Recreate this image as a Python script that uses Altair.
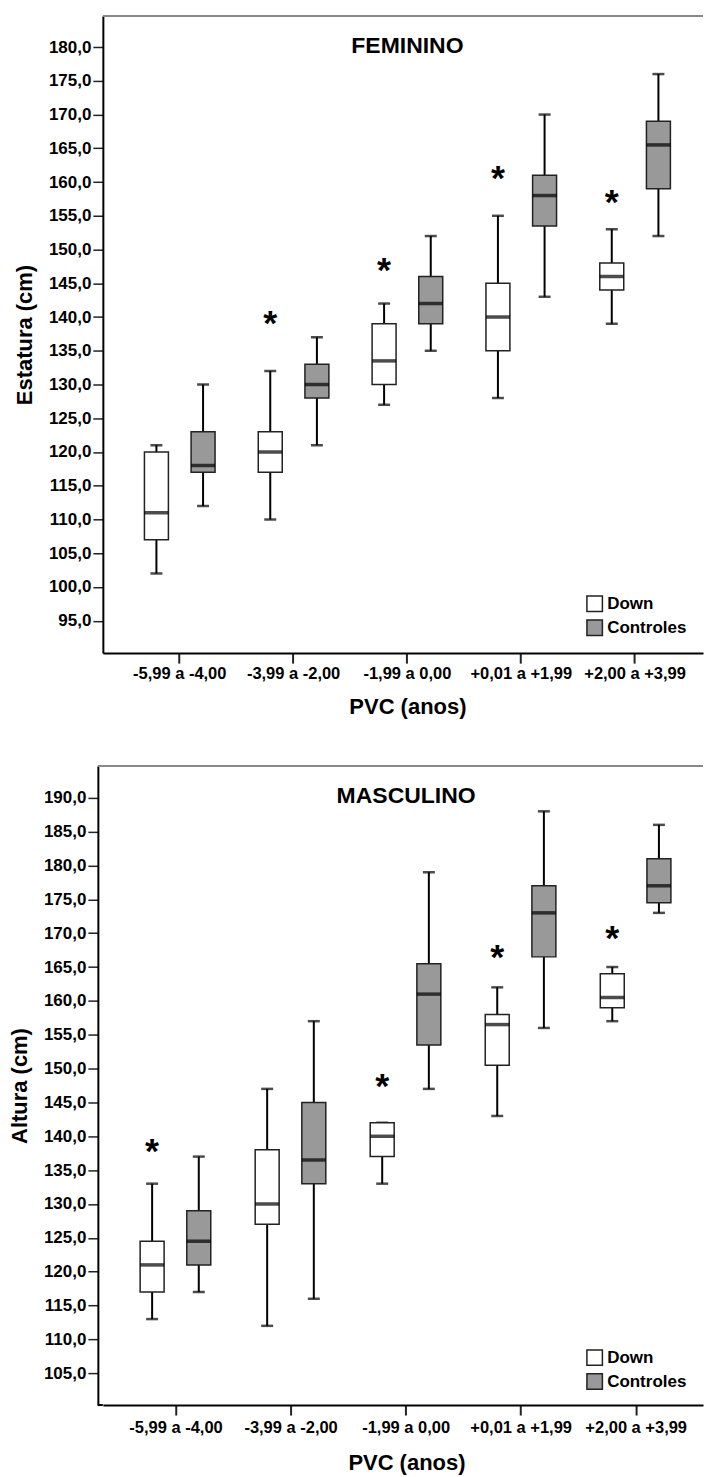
import altair as alt
import pandas as pd

categories = ["-5,99 a -4,00", "-3,99 a -2,00", "-1,99 a 0,00", "+0,01 a +1,99", "+2,00 a +3,99"]
groups = ["Down", "Controles"]

# FEMININO (Estatura)
fem_down_low = [102, 110, 127, 128, 139]
fem_down_q1 = [107, 117, 130, 135, 144]
fem_down_med = [111, 120, 133.5, 140, 146]
fem_down_q3 = [120, 123, 139, 145, 148]
fem_down_high = [121, 132, 142, 155, 153]
fem_ctrl_low = [112, 121, 135, 143, 152]
fem_ctrl_q1 = [117, 128, 139, 153.5, 159]
fem_ctrl_med = [118, 130, 142, 158, 165.5]
fem_ctrl_q3 = [123, 133, 146, 161, 169]
fem_ctrl_high = [130, 137, 152, 170, 176]
fem_star = [None, 139.6, 147.4, 161.0, 157.5]
fem_ticks = [95, 100, 105, 110, 115, 120, 125, 130, 135, 140, 145, 150, 155, 160, 165, 170, 175, 180]

# MASCULINO (Altura)
masc_down_low = [113, 112, 133, 143, 157]
masc_down_q1 = [117, 127, 137, 150.5, 159]
masc_down_med = [121, 130, 140, 156.5, 160.5]
masc_down_q3 = [124.5, 138, 142, 158, 164]
masc_down_high = [133, 147, 142, 162, 165]
masc_ctrl_low = [117, 116, 147, 156, 173]
masc_ctrl_q1 = [121, 133, 153.5, 166.5, 174.5]
masc_ctrl_med = [124.5, 136.5, 161, 173, 177]
masc_ctrl_q3 = [129, 145, 165.5, 177, 181]
masc_ctrl_high = [137, 157, 179, 188, 186]
masc_star = [138.2, None, 147.8, 166.9, 169.8]
masc_ticks = [105, 110, 115, 120, 125, 130, 135, 140, 145, 150, 155, 160, 165, 170, 175, 180, 185, 190]

FONT = "Liberation Sans"


def box_table(down, ctrl):
    rows = []
    for g, arrs in (("Down", down), ("Controles", ctrl)):
        lo, q1, md, q3, hi = arrs
        for i, c in enumerate(categories):
            rows.append({"cat": c, "group": g, "low": lo[i], "q1": q1[i],
                         "med": md[i], "q3": q3[i], "high": hi[i]})
    return pd.DataFrame(rows)


def star_table(stars):
    return pd.DataFrame([{"cat": c, "group": "Down", "star": s}
                         for c, s in zip(categories, stars) if s is not None])


def panel(df, sdf, title_text, ytitle, ydomain, yvalues, width, height,
          x_po, x_align, title_pad, y_offset, legend_x, legend_y, xtitle_x,
          xlab_pad, xtitle_pad):
    xscale = alt.Scale(domain=categories, paddingInner=0, paddingOuter=x_po, align=x_align)
    xaxis = alt.Axis(title="PVC (anos)", labelAngle=0, labelFont=FONT, labelFontSize=16.5,
                     labelFontWeight="bold", labelColor="black", labelPadding=xlab_pad,
                     titleFont=FONT, titleFontSize=22, titleFontWeight="bold",
                     titleColor="black", titlePadding=xtitle_pad, titleX=xtitle_x,
                     tickSize=10, tickWidth=2,
                     tickColor="#222", domainColor="black", domainWidth=2)
    yscale = alt.Scale(domain=ydomain, nice=False, zero=False)
    yaxis = alt.Axis(title=ytitle, values=yvalues, tickCount=len(yvalues),
                     labelOverlap=False, offset=y_offset,
                     labelExpr="replace(format(datum.value, '.1f'), '.', ',')",
                     labelFont=FONT, labelFontSize=17, labelFontWeight="bold",
                     labelColor="black", labelPadding=2, tickSize=10, tickWidth=1.5,
                     tickColor="#222", domainColor="black", domainWidth=2,
                     titleFont=FONT, titleFontSize=22, titleFontWeight="bold",
                     titleColor="black", titlePadding=title_pad, grid=False)
    x = alt.X("cat:N", scale=xscale, axis=xaxis, sort=categories)
    xo = alt.XOffset("group:N", sort=groups,
                     scale=alt.Scale(domain=groups, paddingInner=0, paddingOuter=0.22))
    y = lambda f: alt.Y(f, type="quantitative", scale=yscale, axis=yaxis)
    base = alt.Chart(df).encode(x=x, xOffset=xo)

    w_lo = base.mark_rule(color="black", strokeWidth=2).encode(y=y("low"), y2="q1:Q")
    w_hi = base.mark_rule(color="black", strokeWidth=2).encode(y=y("q3"), y2="high:Q")
    cap_lo = base.mark_tick(color="black", thickness=2.5, size=12).encode(y=y("low"))
    cap_hi = base.mark_tick(color="black", thickness=2.5, size=12).encode(y=y("high"))
    box = base.mark_bar(size=24, stroke="#222", strokeWidth=1.5).encode(
        y=y("q1"), y2="q3:Q",
        fill=alt.Fill("group:N", sort=groups,
                      scale=alt.Scale(domain=groups, range=["white", "#999999"]),
                      legend=alt.Legend(title=None, orient="none", legendX=legend_x,
                                        legendY=legend_y, symbolType="square",
                                        symbolSize=240, symbolStrokeColor="#222",
                                        symbolStrokeWidth=1.5, labelFont=FONT,
                                        labelFontSize=17, labelFontWeight="bold",
                                        labelColor="black", rowPadding=1,
                                        labelOffset=4, padding=0)))
    med = base.mark_tick(color="black", thickness=3.5, size=24).encode(y=y("med"))
    star = alt.Chart(sdf).mark_text(text="*", font=FONT, fontSize=36, fontWeight="bold",
                                    color="black", baseline="middle", dy=4).encode(
        x=alt.X("cat:N", sort=categories), xOffset=alt.XOffset("group:N", sort=groups),
        y=y("star"))
    tdf = pd.DataFrame({"label": [title_text]})
    ttl = alt.Chart(tdf).mark_text(font=FONT, fontSize=23, fontWeight="bold",
                                   color="black", baseline="middle").encode(
        text="label:N", x=alt.datum(categories[2]), y=alt.value(30))
    frame_top = alt.Chart(tdf).mark_rule(color="#888888", strokeWidth=2).encode(
        x=alt.value(-y_offset), x2=alt.value(width), y=alt.value(0))
    layers = [w_lo, w_hi, cap_lo, cap_hi, box, med, star, ttl, frame_top]
    if y_offset:
        base_ext = alt.Chart(tdf).mark_rule(color="black", strokeWidth=2).encode(
            x=alt.value(-y_offset), x2=alt.value(0), y=alt.value(height))
        layers.append(base_ext)
    return alt.layer(*layers).properties(width=width, height=height)


top = panel(box_table((fem_down_low, fem_down_q1, fem_down_med, fem_down_q3, fem_down_high),
                      (fem_ctrl_low, fem_ctrl_q1, fem_ctrl_med, fem_ctrl_q3, fem_ctrl_high)),
            star_table(fem_star), "FEMININO", "Estatura (cm)", [90.2, 184.6],
            fem_ticks, 601, 638, 0.136, 0.645, 12, 0, 484, 580, 305, 2, 15)

bottom = panel(box_table((masc_down_low, masc_down_q1, masc_down_med, masc_down_q3, masc_down_high),
                         (masc_ctrl_low, masc_ctrl_q1, masc_ctrl_med, masc_ctrl_q3, masc_ctrl_high)),
               star_table(masc_star), "MASCULINO", "Altura (cm)", [100.3, 194.7],
               masc_ticks, 601, 640, 0.1085, 0.628, 12, 5, 484, 584, 304, 4, 17)

chart = alt.vconcat(top, bottom, spacing=47).resolve_scale(
    x="independent", y="independent", fill="independent").resolve_legend(
    fill="independent").properties(
    padding={"left": 8, "top": 14, "right": 0, "bottom": 0}).configure_view(stroke=None)

chart.save("out.html", embed_options={"renderer": "svg", "actions": False})
